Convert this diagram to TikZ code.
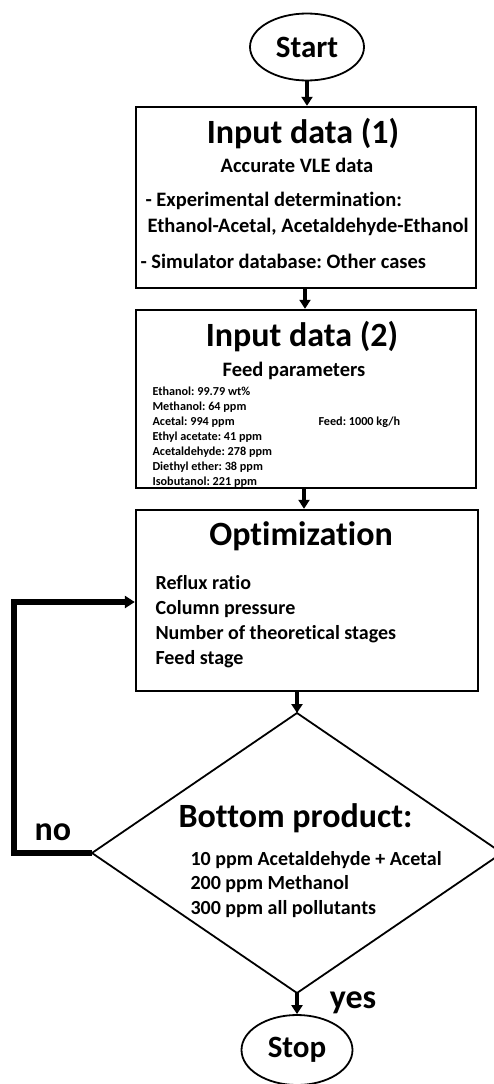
\documentclass[tikz,border=0pt]{standalone}
\usepackage{fontspec}
\setmainfont{Carlito}[Ligatures=CommonOff]
\usetikzlibrary{arrows.meta,shapes.geometric}
\frenchspacing

\begin{document}
\begin{tikzpicture}[x=1pt,y=-1pt,
  box/.style={draw, rectangle, line width=2.4pt, inner sep=0pt},
  term/.style={draw, ellipse, line width=1.8pt, inner sep=0pt},
  flow/.style={line width=3.6pt, -{Triangle[length=9pt,width=11pt]}},
  back/.style={line width=5.5pt, -{Triangle[length=10pt,width=12pt]}},
  huge/.style={font=\fontsize{34}{36}\selectfont\bfseries},
  mid/.style={font=\fontsize{20.5}{24}\selectfont\bfseries},
  item/.style={font=\fontsize{20}{24}\selectfont\bfseries},
  tiny/.style={font=\fontsize{12.2}{15}\selectfont\bfseries}]

\useasboundingbox (0,0) rectangle (493,1084);

% terminals
\node[term, minimum width=114pt, minimum height=67pt,
      font=\fontsize{31}{34}\selectfont\bfseries] (start) at (307,47) {Start};
\node[term, minimum width=111pt, minimum height=70pt,
      font=\fontsize{31}{34}\selectfont\bfseries] (stop) at (297,1050) {Stop};

% process boxes
\node[box, minimum width=340pt, minimum height=181pt] (in1) at (306,197.5) {};
\node[box, minimum width=340pt, minimum height=178pt] (in2) at (306,399) {};
\node[box, minimum width=342pt, minimum height=181pt] (opt) at (307,600.5) {};

% decision diamond
\coordinate (dT) at (297,713);
\coordinate (dL) at (92,853);
\coordinate (dB) at (297,993);
\coordinate (dR) at (502,853);
\draw[line width=1.8pt, line join=miter] (dT) -- (dR) -- (dB) -- (dL) -- cycle;

% box 1 text
\node[huge, anchor=base] (in1title) at (303,143) {Input data (1)};
\node[mid, anchor=base] (in1sub) at (297,172) {Accurate VLE data};
\node[mid, anchor=base west] (in1a) at (142,206) {- Experimental determination:};
\node[mid, anchor=base west] (in1b) at (144,232) {Ethanol-Acetal, Acetaldehyde-Ethanol};
\node[mid, anchor=base west] (in1c) at (137,268) {- Simulator database: Other cases};

% box 2 text
\node[huge, anchor=base] (in2title) at (302,346) {Input data (2)};
\node[mid, anchor=base] (in2sub) at (294,376) {Feed parameters};
\foreach \txt [count=\i from 0] in {Ethanol: 99.79 wt\%, Methanol: 64 ppm, Acetal: 994 ppm,
    Ethyl acetate: 41 ppm, Acetaldehyde: 278 ppm, Diethyl ether: 38 ppm, Isobutanol: 221 ppm}
  \node[tiny, anchor=base west] (feed\i) at (149,395+15*\i) {\txt};
\node[tiny, anchor=base west] (feedrate) at (315,425) {Feed: 1000 kg/h};

% optimisation box text
\node[huge, anchor=base] (opttitle) at (301,545) {Optimization};
\foreach \txt [count=\i from 0] in {Reflux ratio, Column pressure,
    Number of theoretical stages, Feed stage}
  \node[item, anchor=base west] (var\i) at (152,589+25.3*\i) {\txt};

% decision text
\node[huge, anchor=base] (dtitle) at (295.5,827) {Bottom product:};
\foreach \txt [count=\i from 0] in {10 ppm Acetaldehyde + Acetal, 200 ppm Methanol,
    300 ppm all pollutants}
  \node[item, anchor=base west] (spec\i) at (187,865+24.5*\i) {\txt};

% branch labels
\node[huge, anchor=base] (no) at (53,840) {no};
\node[huge, anchor=base] (yes) at (353,1008) {yes};

% connectors
\draw[flow] (start.south) -- (start.south |- in1.north);
\draw[flow] ([xshift=-1pt]in1.south) -- ([xshift=-1pt]in2.north);
\draw[flow] ([xshift=-2pt]in2.south) -- ([xshift=-3pt]opt.north);
\draw[flow] (opt.south -| dT) -- (dT);
\draw[flow] (dB) -- (stop.north);
\coordinate (fb1) at (14,853);
\coordinate (fb2) at (14,602);
\draw[back, line join=miter] (dL) -- (fb1) -- (fb2) -- (fb2 -| opt.west);

\end{tikzpicture}
\end{document}
